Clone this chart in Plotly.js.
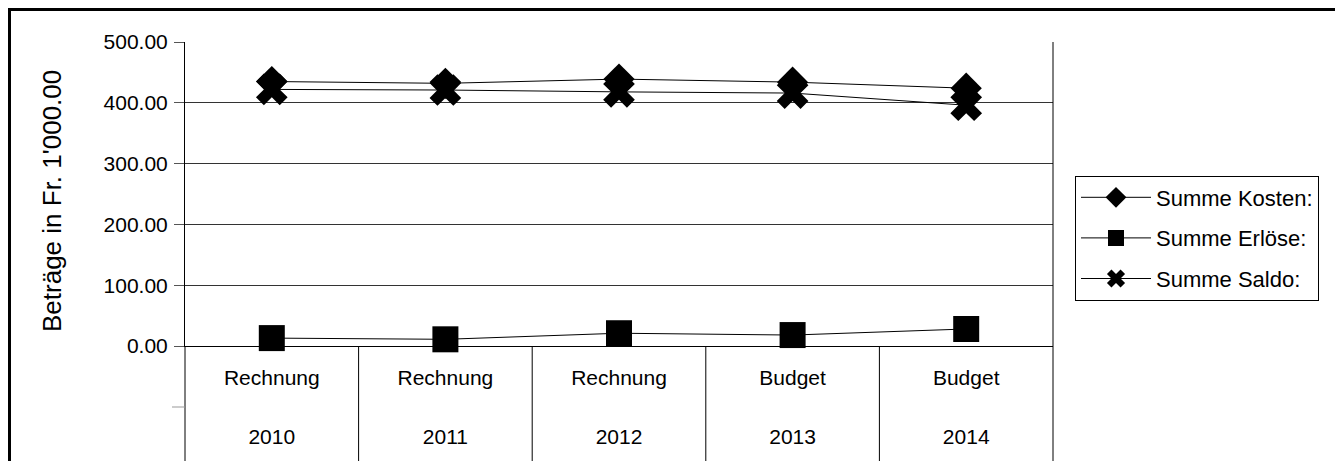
<!DOCTYPE html>
<html>
<head>
<meta charset="utf-8">
<script src="https://cdn.plot.ly/plotly-3.0.1.min.js"></script>
<style>
  html, body { margin: 0; padding: 0; overflow: hidden; background: #fff; }
  #chart { width: 1335px; height: 461px; }
  #frame { position: absolute; left: 8px; top: 8px; width: 1400px; height: 600px;
           border: 3px solid #000; pointer-events: none; }
</style>
</head>
<body>
<div id="chart"></div>
<div id="frame"></div>
<script>
// Kosten / Erlöse / Saldo per year, in Fr. 1'000
const years   = ['2010', '2011', '2012', '2013', '2014'];
const kinds   = ['Rechnung', 'Rechnung', 'Rechnung', 'Budget', 'Budget'];
const kosten  = [435, 432, 439, 434, 424];
const erloese = [13, 11, 21, 18, 28];
const saldo   = [422, 421, 418, 416, 396];
const yTicks  = [0, 100, 200, 300, 400, 500];

const FONT = 'Liberation Sans, Arial, Helvetica, sans-serif';

function series(name, values, symbol, size) {
  return {
    type: 'scatter',
    mode: 'lines+markers',
    name: name,
    legendgroup: name,
    x: years,
    y: values,
    cliponaxis: false,
    line: { color: '#000', width: 1 },
    marker: { symbol: symbol, size: size, color: '#000', line: { color: '#000', width: 0 } }
  };
}

const traces = [
  series('Summe Kosten:', kosten, 'diamond', 24),
  series('Summe Erlöse:', erloese, 'square', 26),
  series('Summe Saldo:', saldo, 'x', 28),
  // carrier for the second label row (years) on the overlaid axis; draws nothing
  {
    type: 'scatter', mode: 'none', xaxis: 'x2', yaxis: 'y',
    x: years.map((_, i) => i), y: years.map(() => null),
    showlegend: false, hoverinfo: 'skip'
  }
];

// vertical separators between the category cells, from the axis down to the bottom edge
const n = years.length;
const shapes = [];
for (let i = 0; i <= n; i++) {
  shapes.push({
    type: 'line', xref: 'paper', yref: 'paper',
    x0: i / n, x1: i / n,
    y0: (i === n) ? 1 : 0, y1: -0.5,
    line: { color: '#000', width: 1 }
  });
}
// small mark between the two label rows, left of the axis
shapes.push({
  type: 'line', xref: 'paper', yref: 'paper',
  x0: -13 / 868, x1: 0, y0: -61 / 304, y1: -61 / 304,
  line: { color: '#999', width: 1 }
});

const layout = {
  width: 1335,
  height: 461,
  margin: { l: 185, r: 282, t: 42, b: 115 },
  paper_bgcolor: '#fff',
  plot_bgcolor: '#fff',
  font: { family: FONT, size: 21, color: '#000' },
  showlegend: true,
  legend: {
    x: (1075 - 185) / 868, y: (346 - 238) / 304,
    xanchor: 'left', yanchor: 'middle',
    bgcolor: '#fff', bordercolor: '#000', borderwidth: 1,
    font: { family: FONT, size: 22, color: '#000' },
    itemwidth: 70, itemsizing: 'trace',
    tracegroupgap: 9, traceorder: 'grouped'
  },
  xaxis: {
    type: 'category',
    range: [-0.5, n - 0.5],
    tickmode: 'array', tickvals: years, ticktext: kinds,
    ticks: '', showgrid: false, zeroline: false,
    showline: true, linecolor: '#000', linewidth: 1,
    tickfont: { family: FONT, size: 21, color: '#000' },
    ticklabelstandoff: 13,
    automargin: false, fixedrange: true
  },
  xaxis2: {
    overlaying: 'x', anchor: 'y', side: 'bottom',
    type: 'linear',
    range: [-0.5, n - 0.5],
    tickmode: 'array', tickvals: years.map((_, i) => i), ticktext: years,
    ticks: '', showgrid: false, zeroline: false, showline: false,
    tickfont: { family: FONT, size: 21, color: '#000' },
    ticklabelstandoff: 76,
    automargin: false, fixedrange: true
  },
  yaxis: {
    range: [0, 500],
    tickmode: 'array', tickvals: yTicks, tickformat: '.2f',
    ticks: 'outside', ticklen: 10, tickcolor: '#555', tickwidth: 1,
    showgrid: true, gridcolor: '#333', gridwidth: 1,
    zeroline: false,
    showline: true, linecolor: '#000', linewidth: 1,
    tickfont: { family: FONT, size: 21, color: '#000' },
    ticklabelstandoff: 2,
    automargin: false, fixedrange: true
  },
  annotations: [{
    text: "Beträge in Fr. 1'000.00",
    xref: 'paper', yref: 'paper',
    x: (52 - 185) / 868, y: (346 - 201) / 304,
    xanchor: 'center', yanchor: 'middle',
    textangle: -90, showarrow: false,
    font: { family: FONT, size: 26, color: '#000' }
  }],
  shapes: shapes
};

Plotly.newPlot('chart', traces, layout, { displayModeBar: false, staticPlot: true });
</script>
</body>
</html>
